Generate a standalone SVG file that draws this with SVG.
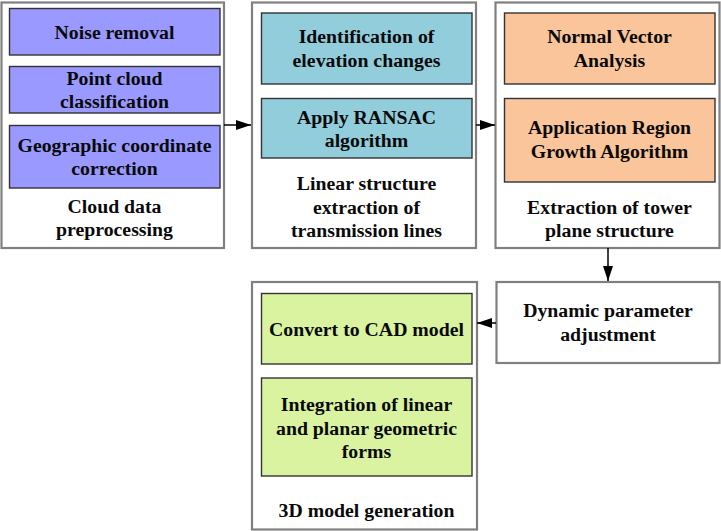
<svg xmlns="http://www.w3.org/2000/svg" width="721" height="531" viewBox="0 0 721 531">
<defs>
<marker id="ah" markerWidth="15" markerHeight="10" refX="15" refY="5" orient="auto" markerUnits="userSpaceOnUse">
<path d="M0,0 L15,5 L0,10 Z" fill="#000"/>
</marker>
<style>
.outer{fill:#fff;stroke:#808080;stroke-width:2.2}
.in{stroke:#333;stroke-width:1.4}
.p{fill:#9999FF}.b{fill:#92CDDC}.o{fill:#FAC59A}.g{fill:#D9F3A1}
text{font-family:"Liberation Serif","Times New Roman",serif;font-weight:bold;font-size:19.8px;fill:#0a0a0a;text-anchor:middle}
.conn{stroke:#000;stroke-width:1.5;fill:none}
</style>
</defs>
<rect width="721" height="531" fill="#fff"/>
<g id="panel1">
<rect class="outer" x="1.5" y="2.5" width="222.5" height="245.5"/>
<g id="noise"><rect class="in p" x="9.5" y="8.5" width="210.5" height="46.5"/><text x="114.5" y="38.5">Noise removal</text></g>
<g id="classify"><rect class="in p" x="9.5" y="66.5" width="210.5" height="46.5"/><text x="114.5" y="85">Point cloud</text><text x="114.5" y="108">classification</text></g>
<g id="geo"><rect class="in p" x="9.5" y="125.5" width="210.5" height="62.5"/><text x="114.5" y="152">Geographic coordinate</text><text x="114.5" y="175">correction</text></g>
<text x="114.5" y="213">Cloud data</text><text x="114.5" y="236">preprocessing</text>
</g>
<g id="panel2">
<rect class="outer" x="252" y="2.5" width="224" height="245.5"/>
<g id="elev"><rect class="in b" x="261.5" y="13" width="210.5" height="71"/><text x="366.5" y="43.3">Identification of</text><text x="366.5" y="66.7">elevation changes</text></g>
<g id="ransac"><rect class="in b" x="261.5" y="98.5" width="210.5" height="59.5"/><text x="366.5" y="124">Apply RANSAC</text><text x="366.5" y="146.7">algorithm</text></g>
<text x="366.5" y="190">Linear structure</text><text x="366.5" y="213.5">extraction of</text><text x="366.5" y="237">transmission lines</text>
</g>
<g id="panel3">
<rect class="outer" x="495.5" y="2.5" width="224" height="245.5"/>
<g id="normal"><rect class="in o" x="504.5" y="13" width="210.5" height="71"/><text x="609.5" y="43.3">Normal Vector</text><text x="609.5" y="66.7">Analysis</text></g>
<g id="growth"><rect class="in o" x="504.5" y="98.5" width="210.5" height="83.5"/><text x="609.5" y="134">Application Region</text><text x="609.5" y="157.5">Growth Algorithm</text></g>
<text x="609.5" y="213.5">Extraction of tower</text><text x="609.5" y="237">plane structure</text>
</g>
<g id="dynamic">
<rect class="outer" x="496.5" y="282" width="223" height="81"/>
<text x="608" y="317">Dynamic parameter</text><text x="608" y="340.5">adjustment</text>
</g>
<g id="panel4">
<rect class="outer" x="252" y="282" width="225" height="247.5"/>
<g id="cad"><rect class="in g" x="261.5" y="293.5" width="210.5" height="70.5"/><text x="366.5" y="336">Convert to CAD model</text></g>
<g id="integ"><rect class="in g" x="261.5" y="378" width="210.5" height="98"/><text x="366.5" y="411">Integration of linear</text><text x="366.5" y="434.5">and planar geometric</text><text x="366.5" y="458">forms</text></g>
<text x="366.5" y="517">3D model generation</text>
</g>
<g id="connectors">
<line class="conn" x1="224" y1="125" x2="251" y2="125" marker-end="url(#ah)"/>
<line class="conn" x1="476" y1="125" x2="495" y2="125" marker-end="url(#ah)"/>
<line class="conn" x1="608" y1="248" x2="608" y2="281" marker-end="url(#ah)"/>
<line class="conn" x1="496" y1="323" x2="477" y2="323" marker-end="url(#ah)"/>
</g>
</svg>
